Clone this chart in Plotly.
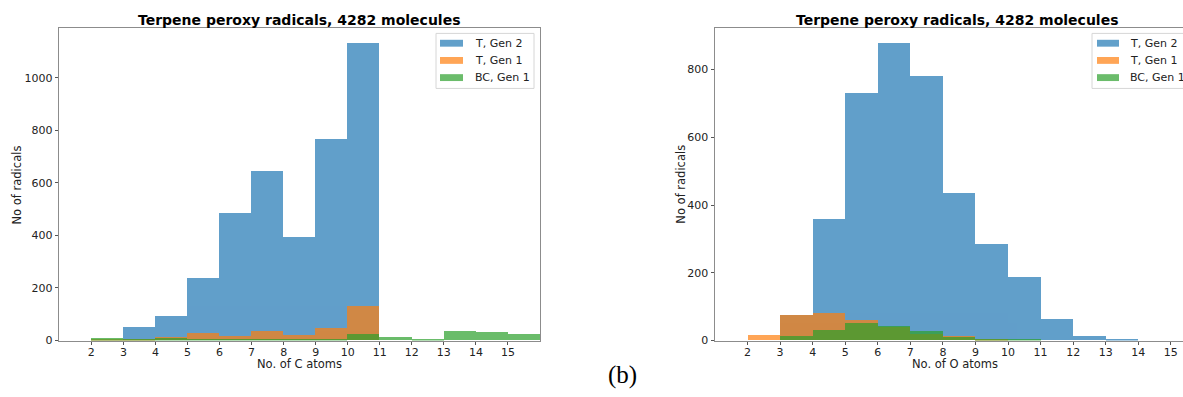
import plotly.graph_objects as go

W, H = 1183, 397

# ---------------- data ----------------
bin_left = list(range(2, 16))          # left edges of unit-width bins 2..15
series_names = ["T, Gen 2", "T, Gen 1", "BC, Gen 1"]

# No. of C atoms
c_gen2 = [0, 48, 91, 237, 482, 645, 393, 764, 1130, 0, 0, 0, 0, 0]
c_gen1 = [3, 4, 11, 28, 15, 36, 20, 45, 128, 0, 0, 0, 0, 0]
c_bc1 = [7, 2, 7, 5, 5, 4, 4, 4, 23, 13, 5, 34, 31, 24]

# No. of O atoms
o_gen2 = [0, 74, 358, 728, 877, 779, 433, 283, 186, 63, 13, 3, 0, 0]
o_gen1 = [14, 75, 80, 58, 38, 18, 12, 2, 0, 0, 0, 0, 0, 0]
o_bc1 = [0, 11, 29, 49, 43, 26, 9, 2, 1, 0, 0, 0, 0, 0]

x_ticks = list(range(2, 16))
c_yticks = [0, 200, 400, 600, 800, 1000]
o_yticks = [0, 200, 400, 600, 800]

title_text = "Terpene peroxy radicals, 4282 molecules"

colors = ["rgb(31,119,180)", "rgb(255,127,14)", "rgb(44,160,44)"]
swatch = ["#62a0ca", "#ffa556", "#6bbc6b"]

centers = [b + 0.5 for b in bin_left]

fig = go.Figure()
for vals, col, name in zip([c_gen2, c_gen1, c_bc1], colors, series_names):
    fig.add_trace(go.Bar(x=centers, y=vals, width=1, marker=dict(color=col, line=dict(width=0)),
                         opacity=0.7, name=name, xaxis="x", yaxis="y", showlegend=False))
for vals, col, name in zip([o_gen2, o_gen1, o_bc1], colors, series_names):
    fig.add_trace(go.Bar(x=centers, y=vals, width=1, marker=dict(color=col, line=dict(width=0)),
                         opacity=0.7, name=name, xaxis="x2", yaxis="y2", showlegend=False))

def px(x):
    return x / W

def py(y):
    return 1 - y / H

tickfont = dict(family="DejaVu Sans", size=11, color="#222")
spine = "#8c8c8c"
ydom = [py(346.7), py(29)]

common_x = dict(tickvals=x_ticks, ticks="outside", ticklen=3.5, tickcolor="#555", tickwidth=1,
                showline=True, linecolor=spine, linewidth=1, mirror=True, showgrid=False,
                zeroline=False, tickfont=tickfont, ticklabelstandoff=-2)
common_y = dict(ticks="outside", ticklen=3.5, tickcolor="#555", tickwidth=1,
                showline=True, linecolor=spine, linewidth=1, showgrid=False,
                zeroline=False, tickfont=tickfont, domain=ydom)

fig.update_layout(
    width=W, height=H, margin=dict(l=0, r=0, t=0, b=0),
    paper_bgcolor="white", plot_bgcolor="white", barmode="overlay", bargap=0,
    xaxis=dict(domain=[px(59.3), px(540)], range=[1, 16], anchor="y", **common_x),
    yaxis=dict(range=[0, 1187], tickvals=c_yticks, anchor="x", mirror=True, **common_y),
    xaxis2=dict(domain=[px(715), 1.0], range=[1, 1 + (W - 715) / 32.56], anchor="y2", **common_x),
    yaxis2=dict(range=[0, 921], tickvals=o_yticks, anchor="x2", mirror=False, **common_y),
)

ann = []
lab = dict(family="DejaVu Sans", size=11.5, color="#222")
# titles
for cx in (299.5, 957):
    ann.append(dict(x=px(cx), y=py(20), xref="paper", yref="paper", text="<b>" + title_text + "</b>",
                    showarrow=False, font=dict(family="DejaVu Sans", size=14, color="black"),
                    xanchor="center", yanchor="middle"))
# x labels
for cx, t in ((299.5, "No. of C atoms"), (955, "No. of O atoms")):
    ann.append(dict(x=px(cx), y=py(371), xref="paper", yref="paper", text=t, showarrow=False,
                    font=lab, xanchor="center", yanchor="middle"))
# y labels
for cx in (16.8, 681):
    ann.append(dict(x=px(cx), y=py(188), xref="paper", yref="paper", text="No of radicals",
                    showarrow=False, font=lab, textangle=-90, xanchor="center", yanchor="middle"))
# (b)
ann.append(dict(x=px(622), y=py(382), xref="paper", yref="paper", text="(b)", showarrow=False,
                font=dict(family="Liberation Serif", size=25, color="black"),
                xanchor="center", yanchor="middle"))

shapes = []
rows = [44, 61.5, 79]
for bx0, bx1, sx0, sx1, tx in ((436, 534, 440, 463, 473), (1092, 1192, 1097, 1119, 1128)):
    shapes.append(dict(type="rect", xref="paper", yref="paper", x0=px(bx0), x1=px(bx1),
                       y0=py(90), y1=py(34), line=dict(color="#d6d6d6", width=1),
                       fillcolor="rgba(255,255,255,0.8)", layer="above"))
    for ry, c, name in zip(rows, swatch, series_names):
        shapes.append(dict(type="rect", xref="paper", yref="paper", x0=px(sx0), x1=px(sx1),
                           y0=py(ry + 3.5), y1=py(ry - 3.5), line=dict(width=0), fillcolor=c,
                           layer="above"))
        ann.append(dict(x=px(tx), y=py(ry), xref="paper", yref="paper", text=name, showarrow=False,
                        font=dict(family="DejaVu Sans", size=11, color="#222"),
                        xanchor="left", yanchor="middle"))

fig.update_layout(annotations=ann, shapes=shapes)
fig.write_html("out.html")
